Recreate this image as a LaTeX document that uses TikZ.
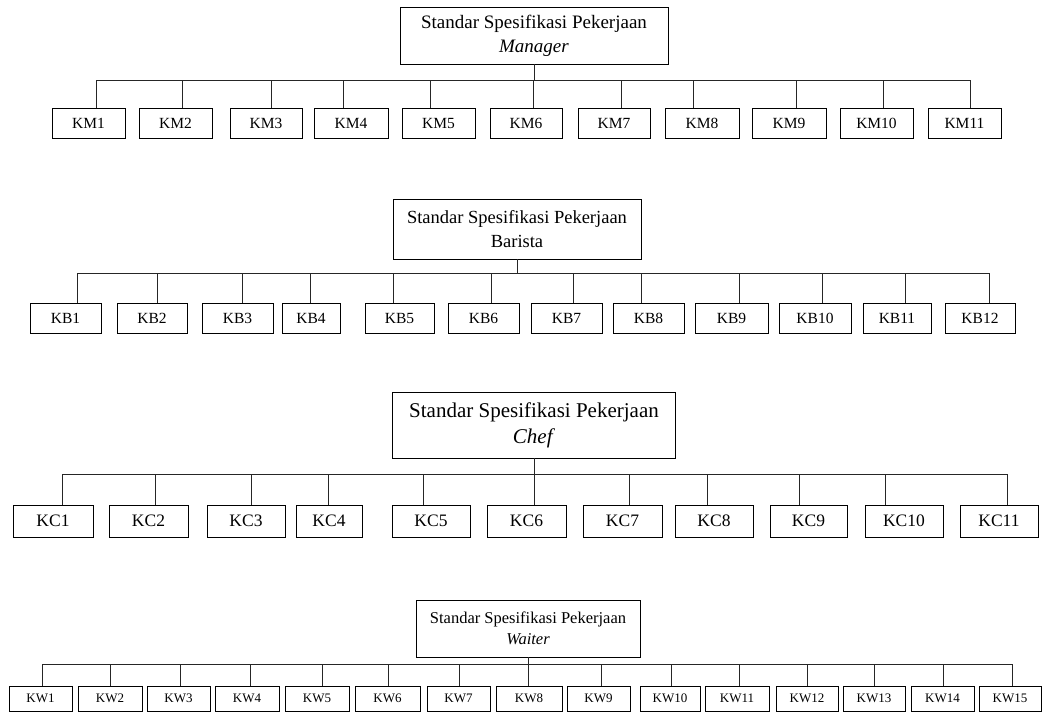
\documentclass[tikz,border=0pt]{standalone}
\usepackage{fontspec}
\setmainfont{Liberation Serif}
\begin{document}
\begin{tikzpicture}[x=1pt,y=-1pt,
  titlebox/.style={draw=black,line width=0.9pt,inner sep=0pt,align=center},
  leafbox/.style={draw=black,line width=0.9pt,inner sep=0pt},
  link/.style={draw=black!85,line width=0.6pt}]
\useasboundingbox (0,0) rectangle (1045,713);

% ---------- Manager ----------
\node[titlebox,minimum width=268pt,minimum height=57pt,font=\fontsize{19}{24}\selectfont] (mtop) at (534,35.5)
  {Standar Spesifikasi Pekerjaan\\\textit{Manager}};
\foreach \i/\l/\r/\s in {1/52/125/96,2/139/212/182,3/230/302/271,4/314/388/343,5/402/475/430,6/490/562/533,7/578/650/621,8/665/739/693,9/752/826/796,10/840/913/883,11/928/1001/970}{
  \pgfmathsetmacro\w{\r-\l}\pgfmathsetmacro\c{(\l+\r)/2}
  \node[leafbox,minimum width=\w pt,minimum height=30pt,font=\fontsize{15.5}{18}\selectfont] (km\i) at (\c,123) {KM\i};
  \coordinate (bm\i) at (\s,80);
  \draw[link] (bm\i) -- (bm\i |- km\i.north);
}
\draw[link] (bm1) -- (bm11);
\draw[link] (mtop.south) -- (mtop.south |- bm1);

% ---------- Barista ----------
\node[titlebox,minimum width=248pt,minimum height=60pt,font=\fontsize{18.5}{24}\selectfont] (btop) at (517,229)
  {Standar Spesifikasi Pekerjaan\\Barista};
\foreach \i/\l/\r/\s in {1/30/101/77,2/117/187/157,3/202/273/242,4/282/340/310,5/365/434/393,6/448/519/491,7/531/602/573,8/613/684/641,9/695/768/739,10/779/851/822,11/863/931/905,12/945/1015/989}{
  \pgfmathsetmacro\w{\r-\l}\pgfmathsetmacro\c{(\l+\r)/2}
  \node[leafbox,minimum width=\w pt,minimum height=30pt,font=\fontsize{15.5}{18}\selectfont] (kb\i) at (\c,318) {KB\i};
  \coordinate (bb\i) at (\s,273);
  \draw[link] (bb\i) -- (bb\i |- kb\i.north);
}
\draw[link] (bb1) -- (bb12);
\draw[link] (btop.south) -- (btop.south |- bb1);

% ---------- Chef ----------
\node[titlebox,minimum width=283pt,minimum height=66pt,font=\fontsize{21}{26}\selectfont] (ctop) at (534,425)
  {Standar Spesifikasi Pekerjaan\\\textit{Chef}};
\foreach \i/\l/\r/\s in {1/13/93/62,2/109/188/155,3/207/285/251,4/296/362/328,5/392/470/423,6/487/566/534,7/583/662/629,8/675/753/707,9/770/847/799,10/865/943/885,11/960/1038/1007}{
  \pgfmathsetmacro\w{\r-\l}\pgfmathsetmacro\c{(\l+\r)/2}
  \node[leafbox,minimum width=\w pt,minimum height=32pt,font=\fontsize{17.5}{20}\selectfont] (kc\i) at (\c,521) {KC\i};
  \coordinate (bc\i) at (\s,474);
  \draw[link] (bc\i) -- (bc\i |- kc\i.north);
}
\draw[link] (bc1) -- (bc11);
\draw[link] (ctop.south) -- (ctop.south |- bc1);

% ---------- Waiter ----------
\node[titlebox,minimum width=224pt,minimum height=57pt,font=\fontsize{16.5}{21}\selectfont] (wtop) at (528,628.5)
  {Standar Spesifikasi Pekerjaan\\\textit{Waiter}};
\foreach \i/\l/\r/\s in {1/9/72/42,2/78/142/110,3/147/210/180,4/215/279/250,5/285/349/322,6/355/420/388,7/427/490/459,8/496/562/528,9/567/630/601,10/640/700/671,11/705/769/739,12/776/838/807,13/843/905/874,14/911/974/943,15/979/1041/1012}{
  \pgfmathsetmacro\w{\r-\l}\pgfmathsetmacro\c{(\l+\r)/2}
  \node[leafbox,minimum width=\w pt,minimum height=25pt,font=\fontsize{13}{15}\selectfont] (kw\i) at (\c,698.5) {KW\i};
  \coordinate (bw\i) at (\s,664);
  \draw[link] (bw\i) -- (bw\i |- kw\i.north);
}
\draw[link] (bw1) -- (bw15);
\draw[link] (wtop.south) -- (wtop.south |- bw1);
\end{tikzpicture}
\end{document}
